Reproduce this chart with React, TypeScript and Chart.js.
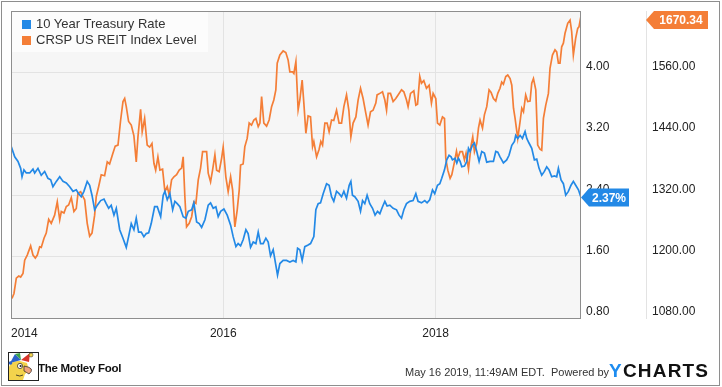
import React, { useEffect, useRef } from 'react';
import { Chart, registerables } from 'chart.js';

Chart.register(...registerables);

// ---- data ----
const START_YEAR = 2014;
const END_YEAR = 2019.37;
const xTickYears = [2014, 2016, 2018];
const rateTicks = [0.8, 1.6, 2.4, 3.2, 4.0];
const reitTicks = [1080, 1200, 1320, 1440, 1560];
const rateMin = 0.8;
const rateMax = 4.8;
const reitMin = 1080;
const reitMax = 1680;

const seriesNames = ['10 Year Treasury Rate', 'CRSP US REIT Index Level'];

// years since start of 2014
const rateT = [
  0.003, 0.035, 0.066, 0.091, 0.104, 0.122, 0.144, 0.176, 0.207, 0.223, 0.254, 0.285, 0.317, 0.348, 0.374, 0.395,
  0.427, 0.459, 0.49, 0.521, 0.553, 0.584, 0.615, 0.637, 0.662, 0.687, 0.718, 0.741, 0.763, 0.788, 0.813, 0.845,
  0.876, 0.897, 0.92, 0.944, 0.97, 0.992, 1.024, 1.055, 1.086, 1.108, 1.133, 1.158, 1.18, 1.202, 1.227, 1.252,
  1.274, 1.297, 1.321, 1.353, 1.378, 1.41, 1.434, 1.45, 1.472, 1.497, 1.523, 1.544, 1.566, 1.591, 1.622, 1.648,
  1.67, 1.702, 1.723, 1.749, 1.773, 1.796, 1.827, 1.858, 1.88, 1.905, 1.93, 1.952, 1.975, 2.006, 2.037, 2.069,
  2.093, 2.119, 2.14, 2.163, 2.187, 2.213, 2.234, 2.257, 2.282, 2.307, 2.329, 2.351, 2.376, 2.401, 2.423, 2.445,
  2.47, 2.495, 2.511, 2.533, 2.564, 2.596, 2.627, 2.658, 2.684, 2.7, 2.721, 2.743, 2.768, 2.799, 2.822, 2.853,
  2.872, 2.894, 2.916, 2.941, 2.973, 2.997, 3.02, 3.041, 3.067, 3.091, 3.114, 3.136, 3.161, 3.186, 3.202, 3.217,
  3.239, 3.27, 3.293, 3.312, 3.333, 3.355, 3.38, 3.406, 3.43, 3.453, 3.475, 3.5, 3.522, 3.543, 3.569, 3.6,
  3.632, 3.656, 3.679, 3.701, 3.726, 3.757, 3.788, 3.814, 3.835, 3.867, 3.898, 3.92, 3.945, 3.971, 3.992, 4.018,
  4.04, 4.058, 4.084, 4.105, 4.127, 4.146, 4.159, 4.184, 4.2, 4.216, 4.231, 4.247, 4.272, 4.294, 4.31, 4.325,
  4.347, 4.366, 4.388, 4.41, 4.435, 4.46, 4.482, 4.513, 4.545, 4.567, 4.586, 4.607, 4.639, 4.67, 4.692, 4.718,
  4.743, 4.755, 4.774, 4.796, 4.818, 4.843, 4.859, 4.88, 4.906, 4.931, 4.953, 4.975, 5.0, 5.025, 5.047, 5.069,
  5.094, 5.12, 5.141, 5.157, 5.182, 5.204, 5.226, 5.251, 5.276, 5.298, 5.32, 5.346, 5.37,
];
const rateValues = [
  3.03, 2.9, 2.84, 2.75, 2.64, 2.73, 2.69, 2.69, 2.74, 2.69, 2.75, 2.66, 2.71, 2.62, 2.6, 2.51,
  2.58, 2.64, 2.58, 2.56, 2.51, 2.45, 2.47, 2.42, 2.38, 2.45, 2.58, 2.53, 2.4, 2.21, 2.27, 2.33,
  2.35, 2.29, 2.23, 2.27, 2.14, 2.23, 1.95, 1.84, 1.72, 1.86, 2.03, 1.95, 2.1, 1.92, 1.92, 1.86,
  1.9, 1.91, 2.03, 2.25, 2.25, 2.12, 2.4, 2.45, 2.34, 2.42, 2.21, 2.32, 2.29, 2.25, 2.12, 2.1,
  2.19, 2.21, 2.3, 2.05, 2.03, 1.98, 2.08, 2.27, 2.3, 2.23, 2.25, 2.12, 2.19, 2.22, 2.14, 2.01,
  1.86, 1.73, 1.77, 1.74, 1.82, 1.95, 1.9, 1.72, 1.79, 1.77, 1.92, 1.77, 1.77, 1.84, 1.79, 1.61,
  1.69, 1.49, 1.36, 1.51, 1.55, 1.55, 1.53, 1.55, 1.53, 1.71, 1.69, 1.55, 1.73, 1.75, 1.77, 1.86,
  2.21, 2.29, 2.3, 2.42, 2.55, 2.53, 2.38, 2.32, 2.45, 2.42, 2.38, 2.45, 2.36, 2.53, 2.58, 2.4,
  2.38, 2.32, 2.19, 2.33, 2.29, 2.4, 2.29, 2.23, 2.14, 2.19, 2.16, 2.25, 2.32, 2.26, 2.27, 2.23,
  2.21, 2.14, 2.1, 2.21, 2.29, 2.32, 2.33, 2.42, 2.32, 2.3, 2.33, 2.3, 2.34, 2.47, 2.42, 2.53,
  2.55, 2.62, 2.73, 2.86, 2.92, 2.9, 2.86, 2.88, 2.82, 2.88, 2.84, 2.77, 2.78, 2.84, 3.01, 2.97,
  3.05, 3.08, 2.97, 2.84, 2.97, 2.95, 2.83, 2.84, 2.84, 2.97, 2.96, 2.9, 2.82, 2.86, 2.92, 3.05,
  3.1, 3.18, 3.14, 3.18, 3.14, 3.23, 3.14, 3.08, 3.01, 2.86, 2.87, 2.75, 2.66, 2.71, 2.77, 2.73,
  2.64, 2.65, 2.64, 2.75, 2.6, 2.55, 2.4, 2.45, 2.53, 2.58, 2.53, 2.47, 2.37,
];

const reitT = [
  0.009, 0.028, 0.05, 0.073, 0.091, 0.113, 0.129, 0.153, 0.185, 0.207, 0.229, 0.248, 0.27, 0.285, 0.311, 0.332,
  0.355, 0.379, 0.411, 0.436, 0.459, 0.474, 0.499, 0.521, 0.543, 0.568, 0.593, 0.615, 0.631, 0.656, 0.678, 0.694,
  0.718, 0.741, 0.763, 0.788, 0.803, 0.826, 0.85, 0.882, 0.907, 0.929, 0.96, 0.982, 1.008, 1.033, 1.055, 1.071,
  1.086, 1.108, 1.133, 1.158, 1.18, 1.196, 1.221, 1.236, 1.259, 1.283, 1.306, 1.328, 1.347, 1.363, 1.384, 1.403,
  1.428, 1.45, 1.472, 1.491, 1.513, 1.535, 1.56, 1.585, 1.607, 1.622, 1.638, 1.654, 1.679, 1.702, 1.723, 1.742,
  1.764, 1.786, 1.805, 1.827, 1.843, 1.858, 1.88, 1.899, 1.921, 1.937, 1.961, 1.984, 1.999, 2.024, 2.046, 2.069,
  2.088, 2.109, 2.131, 2.15, 2.163, 2.187, 2.203, 2.225, 2.244, 2.266, 2.288, 2.307, 2.329, 2.345, 2.361, 2.382,
  2.408, 2.432, 2.455, 2.476, 2.495, 2.508, 2.533, 2.564, 2.589, 2.611, 2.627, 2.653, 2.665, 2.684, 2.705, 2.721,
  2.743, 2.759, 2.778, 2.799, 2.822, 2.841, 2.853, 2.879, 2.903, 2.919, 2.935, 2.957, 2.978, 2.997, 3.02, 3.041,
  3.067, 3.091, 3.114, 3.136, 3.161, 3.183, 3.202, 3.223, 3.249, 3.27, 3.293, 3.317, 3.343, 3.364, 3.387, 3.411,
  3.437, 3.449, 3.475, 3.5, 3.522, 3.538, 3.553, 3.575, 3.6, 3.625, 3.647, 3.679, 3.701, 3.726, 3.741, 3.764,
  3.795, 3.814, 3.83, 3.851, 3.867, 3.889, 3.914, 3.939, 3.961, 3.977, 4.002, 4.018, 4.04, 4.065, 4.084, 4.096,
  4.115, 4.137, 4.153, 4.178, 4.197, 4.209, 4.231, 4.253, 4.272, 4.287, 4.31, 4.335, 4.35, 4.366, 4.388, 4.404,
  4.419, 4.442, 4.46, 4.482, 4.504, 4.523, 4.545, 4.567, 4.586, 4.607, 4.623, 4.639, 4.661, 4.68, 4.702, 4.718,
  4.734, 4.749, 4.774, 4.796, 4.812, 4.828, 4.849, 4.868, 4.89, 4.906, 4.922, 4.944, 4.962, 4.984, 5.0, 5.016,
  5.038, 5.063, 5.078, 5.101, 5.125, 5.141, 5.157, 5.172, 5.188, 5.204, 5.219, 5.245, 5.267, 5.282, 5.298, 5.32,
  5.339, 5.351, 5.37,
];
const reitValues = [
  1118, 1128, 1158, 1162, 1160, 1167, 1193, 1203, 1221, 1203, 1197, 1203, 1219, 1218, 1236, 1246,
  1273, 1265, 1281, 1307, 1272, 1288, 1285, 1298, 1301, 1315, 1288, 1294, 1324, 1327, 1317, 1311,
  1265, 1240, 1246, 1281, 1317, 1337, 1360, 1358, 1385, 1381, 1402, 1416, 1418, 1467, 1503, 1509,
  1493, 1464, 1457, 1436, 1385, 1434, 1488, 1444, 1470, 1418, 1414, 1421, 1382, 1369, 1395, 1369,
  1371, 1327, 1337, 1320, 1350, 1356, 1360, 1369, 1373, 1395, 1317, 1258, 1265, 1278, 1307, 1304,
  1350, 1373, 1405, 1405, 1405, 1363, 1346, 1369, 1399, 1369, 1366, 1392, 1414, 1356, 1327, 1356,
  1330, 1258, 1291, 1330, 1379, 1381, 1415, 1431, 1461, 1457, 1467, 1470, 1454, 1461, 1513, 1461,
  1455, 1467, 1493, 1506, 1526, 1578, 1594, 1602, 1599, 1584, 1561, 1561, 1558, 1581, 1487, 1506,
  1545, 1500, 1441, 1475, 1473, 1415, 1425, 1395, 1410, 1425, 1418, 1461, 1461, 1444, 1467, 1466,
  1486, 1461, 1461, 1493, 1516, 1486, 1434, 1461, 1473, 1506, 1529, 1509, 1480, 1457, 1483, 1486,
  1500, 1516, 1519, 1522, 1506, 1486, 1519, 1519, 1503, 1509, 1516, 1526, 1522, 1506, 1493, 1519,
  1524, 1496, 1498, 1552, 1539, 1544, 1529, 1535, 1500, 1519, 1509, 1461, 1457, 1473, 1470, 1392,
  1369, 1353, 1360, 1385, 1406, 1392, 1405, 1405, 1389, 1402, 1371, 1418, 1434, 1405, 1421, 1451,
  1467, 1451, 1477, 1493, 1526, 1521, 1509, 1504, 1519, 1529, 1541, 1537, 1552, 1555, 1548, 1535,
  1490, 1470, 1431, 1464, 1490, 1483, 1516, 1503, 1504, 1539, 1548, 1526, 1418, 1410, 1408, 1470,
  1496, 1519, 1568, 1594, 1604, 1600, 1578, 1578, 1610, 1617, 1636, 1656, 1662, 1640, 1594, 1627,
  1646, 1649, 1670.34,
];

const BLUE = '#2389e6';
const ORANGE = '#f47e37';
const FONT = '"Liberation Sans", Arial, sans-serif';

function drawTag(ctx: CanvasRenderingContext2D, tipX: number, cy: number, w: number, color: string, text: string) {
  const h = 18;
  const arrow = 8;
  ctx.save();
  ctx.fillStyle = color;
  ctx.beginPath();
  ctx.moveTo(tipX, cy);
  ctx.lineTo(tipX + arrow, cy - h / 2);
  ctx.lineTo(tipX + w, cy - h / 2);
  ctx.lineTo(tipX + w, cy + h / 2);
  ctx.lineTo(tipX + arrow, cy + h / 2);
  ctx.closePath();
  ctx.fill();
  ctx.fillStyle = '#ffffff';
  ctx.font = `bold 12px ${FONT}`;
  ctx.textAlign = 'center';
  ctx.textBaseline = 'middle';
  ctx.fillText(text, tipX + arrow + (w - arrow) / 2, cy + 1);
  ctx.restore();
}

const framePlugin = {
  id: 'ychartsFrame',
  beforeDraw(chart: any) {
    const { ctx, chartArea: a } = chart;
    ctx.save();
    ctx.fillStyle = '#f6f6f6';
    ctx.fillRect(a.left, a.top, a.right - a.left, a.bottom - a.top);
    ctx.restore();
  },
  afterDatasetsDraw(chart: any) {
    const { ctx, chartArea: a } = chart;
    ctx.save();
    ctx.strokeStyle = '#8e8e8e';
    ctx.lineWidth = 1;
    ctx.strokeRect(a.left + 0.5, a.top + 0.5, a.right - a.left - 1, a.bottom - a.top);
    ctx.restore();
  },
  afterDraw(chart: any) {
    const { ctx, chartArea: a, scales } = chart;
    const lastRate = rateValues[rateValues.length - 1];
    const lastReit = reitValues[reitValues.length - 1];
    const yRate = scales.y.getPixelForValue(lastRate);
    drawTag(ctx, a.right, yRate, 48, BLUE, `${lastRate.toFixed(2)}%`);
    const yReit = Math.max(scales.y1.getPixelForValue(lastReit), a.top + 9);
    drawTag(ctx, scales.y1.left, yReit, 62, ORANGE, lastReit.toFixed(2));
  },
};

const zeroPadding = (s: any) => {
  s.paddingLeft = 0;
  s.paddingRight = 0;
  s.paddingTop = 0;
  s.paddingBottom = 0;
};

function ChartCanvas() {
  const ref = useRef<HTMLCanvasElement | null>(null);
  useEffect(() => {
    if (!ref.current) return;
    const rateData = rateT.map((t, i) => ({ x: START_YEAR + t, y: rateValues[i] }));
    const reitData = reitT.map((t, i) => ({ x: START_YEAR + t, y: reitValues[i] }));
    const chart = new Chart(ref.current, {
      type: 'line',
      data: {
        datasets: [
          {
            label: seriesNames[0],
            data: rateData,
            yAxisID: 'y',
            borderColor: BLUE,
            borderWidth: 1.7,
            pointRadius: 0,
            tension: 0,
          },
          {
            label: seriesNames[1],
            data: reitData,
            yAxisID: 'y1',
            borderColor: ORANGE,
            borderWidth: 1.7,
            pointRadius: 0,
            tension: 0,
          },
        ],
      },
      options: {
        animation: false,
        responsive: false,
        devicePixelRatio: 1,
        layout: { padding: { left: 11, top: 11, right: 0, bottom: 39 } },
        plugins: { legend: { display: false }, tooltip: { enabled: false } },
        scales: {
          x: {
            type: 'linear',
            min: START_YEAR,
            max: END_YEAR,
            afterBuildTicks: (s: any) => {
              s.ticks = xTickYears.map((v) => ({ value: v }));
            },
            afterFit: (s: any) => {
              s.height = 30;
              zeroPadding(s);
            },
            grid: { color: '#e3e3e3', drawTicks: false },
            border: { display: false },
            ticks: {
              padding: 8,
              color: '#222',
              font: { family: FONT, size: 12 },
              maxRotation: 0,
              autoSkip: false,
              callback: (v: any) => (v === START_YEAR ? '\u0020'.repeat(8) + String(v) : String(v)),
            },
          },
          y: {
            type: 'linear',
            position: 'right',
            min: rateMin,
            max: rateMax,
            afterBuildTicks: (s: any) => {
              s.ticks = rateTicks.map((v) => ({ value: v }));
            },
            afterFit: (s: any) => {
              s.width = 65;
              zeroPadding(s);
            },
            grid: { color: '#e3e3e3', drawTicks: false },
            border: { display: false },
            ticks: {
              padding: 5,
              labelOffset: -6,
              color: '#222',
              font: { family: FONT, size: 12 },
              callback: (v: any) => Number(v).toFixed(2),
            },
          },
          y1: {
            type: 'linear',
            position: 'right',
            min: reitMin,
            max: reitMax,
            afterBuildTicks: (s: any) => {
              s.ticks = reitTicks.map((v) => ({ value: v }));
            },
            afterFit: (s: any) => {
              s.width = 76;
              zeroPadding(s);
            },
            grid: { drawOnChartArea: false, drawTicks: false },
            border: { display: true, color: '#e3e3e3' },
            ticks: {
              padding: 6,
              labelOffset: -6,
              color: '#222',
              font: { family: FONT, size: 12 },
              callback: (v: any) => Number(v).toFixed(2),
            },
          },
        },
      },
      plugins: [framePlugin],
    } as any);
    return () => chart.destroy();
  }, []);
  return <canvas ref={ref} width={722} height={387} style={{ display: 'block', position: 'absolute', left: 0, top: 0 }} />;
}

function FoolLogo() {
  return (
    <svg width={32} height={30} style={{ position: 'absolute', left: 8, top: 352 }}>
      <rect x={0.5} y={0.5} width={30} height={28} fill="#ffffff" stroke="#222" />
      <path d="M1 28 L1 15 Q3 8 12 9 L19 11 L21 19 L17 22 L15 28 Z" fill="#f3d34c" />
      <path d="M2 11 L7 2 L13 8 Z" fill="#2c62c8" />
      <path d="M7 2 L12 1 L13 8 Z" fill="#39a24a" />
      <path d="M13 8 L22 1 L21 10 Z" fill="#d8352a" />
      <circle cx={23} cy={3} r={2} fill="#f3d34c" stroke="#222" strokeWidth={0.5} />
      <circle cx={2.5} cy={11} r={1.8} fill="#2c62c8" />
      <circle cx={12} cy={14} r={2.6} fill="#ffffff" stroke="#222" strokeWidth={0.7} />
      <circle cx={12.6} cy={14} r={1.1} fill="#222" />
      <path d="M16 14 Q28 16 21 22 Q18 20 16 19 Z" fill="#f1a47c" stroke="#222" strokeWidth={0.7} />
      <path d="M8 23 Q12 25 15 23" fill="none" stroke="#222" strokeWidth={0.8} />
    </svg>
  );
}

export default function App() {
  const legendRow = (color: string, label: string, top: number) => (
    <div key={label} style={{ position: 'absolute', left: 10, top, height: 14, display: 'flex', alignItems: 'center' }}>
      <div style={{ width: 9, height: 9, background: color, marginRight: 5 }} />
      <span style={{ fontFamily: FONT, fontSize: 13, color: '#333', lineHeight: '14px', whiteSpace: 'nowrap' }}>{label}</span>
    </div>
  );
  return (
    <div style={{ position: 'absolute', left: 0, top: 0, width: 722, height: 387, background: '#ffffff', overflow: 'hidden' }}>
      <ChartCanvas />
      <div style={{ position: 'absolute', left: 1, top: 1, width: 719, height: 385, border: '1px solid #8e8e8e', boxSizing: 'border-box', pointerEvents: 'none' }} />
      <div style={{ position: 'absolute', left: 12, top: 12, width: 196, height: 40, background: 'rgba(252,252,252,0.92)' }}>
        {legendRow(BLUE, seriesNames[0], 5)}
        {legendRow(ORANGE, seriesNames[1], 21)}
      </div>
      <FoolLogo />
      <div style={{ position: 'absolute', left: 38, top: 363, fontFamily: FONT, fontWeight: 'bold', fontSize: 11.5, lineHeight: '11px', letterSpacing: '-0.3px', color: '#111', whiteSpace: 'nowrap' }}>
        The Motley Fool
      </div>
      <div style={{ position: 'absolute', left: 405, top: 367, fontFamily: FONT, fontSize: 11, lineHeight: '11px', color: '#333', whiteSpace: 'nowrap' }}>
        May 16 2019, 11:49AM EDT.{'\u00a0\u00a0'}Powered by
      </div>
      <div style={{ position: 'absolute', left: 609, top: 361, fontFamily: FONT, fontWeight: 900, fontSize: 19, lineHeight: '19px', letterSpacing: '1.2px', color: '#111', whiteSpace: 'nowrap' }}>
        <span style={{ color: '#1d8cf0' }}>Y</span>CHARTS
      </div>
    </div>
  );
}
